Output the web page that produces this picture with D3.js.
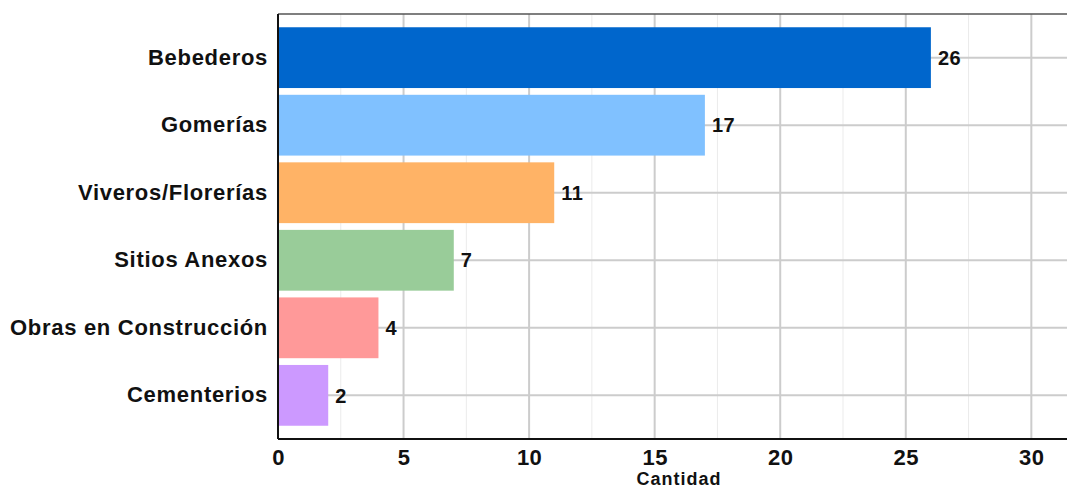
<!DOCTYPE html>
<html>
<head>
<meta charset="utf-8">
<script src="https://cdn.jsdelivr.net/npm/d3@7"></script>
<style>
  body { margin: 0; background: #fff; }
  text { font-family: "Liberation Sans", Arial, sans-serif; font-weight: bold; fill: #111; }
</style>
</head>
<body>
<div id="chart"></div>
<script>
// data
const categories = ['Bebederos', 'Gomerías', 'Viveros/Florerías', 'Sitios Anexos', 'Obras en Construcción', 'Cementerios'];
const values = [26, 17, 11, 7, 4, 2];
const colors = ['#0066cc', '#80c1ff', '#ffb366', '#99cc99', '#ff9999', '#cc99ff'];
const xTicks = [0, 5, 10, 15, 20, 25, 30];
const xMinorTicks = [2.5, 7.5, 12.5, 17.5, 22.5, 27.5];
const xLabel = 'Cantidad';

const width = 1067, height = 490;
const margin = { left: 278, right: 1069, top: 14, bottom: 439 };

const svg = d3.select('#chart').append('svg')
    .attr('width', width)
    .attr('height', height);

const x = d3.scaleLinear().domain([0, 31.5]).range([margin.left, margin.right]);
const y = d3.scaleBand().domain(categories).range([margin.top + 6.5, margin.bottom - 6.5]).padding(0.1);

// grid
svg.append('g').selectAll('line').data(xMinorTicks).enter().append('line')
    .attr('x1', d => x(d)).attr('x2', d => x(d))
    .attr('y1', margin.top).attr('y2', margin.bottom)
    .attr('stroke', '#ebebeb').attr('stroke-width', 1);
svg.append('g').selectAll('line').data(xTicks.slice(1)).enter().append('line')
    .attr('x1', d => x(d)).attr('x2', d => x(d))
    .attr('y1', margin.top).attr('y2', margin.bottom)
    .attr('stroke', '#cccccc').attr('stroke-width', 2);
svg.append('g').selectAll('line').data(categories).enter().append('line')
    .attr('x1', margin.left).attr('x2', margin.right)
    .attr('y1', d => y(d) + y.bandwidth() / 2).attr('y2', d => y(d) + y.bandwidth() / 2)
    .attr('stroke', '#cccccc').attr('stroke-width', 2);

// bars
svg.append('g').selectAll('rect').data(values).enter().append('rect')
    .attr('x', x(0))
    .attr('y', (d, i) => y(categories[i]))
    .attr('width', d => x(d) - x(0))
    .attr('height', y.bandwidth())
    .attr('fill', (d, i) => colors[i]);

// value labels
svg.append('g').selectAll('text').data(values).enter().append('text')
    .attr('x', d => x(d) + 7)
    .attr('y', (d, i) => y(categories[i]) + y.bandwidth() / 2)
    .attr('dy', '0.36em')
    .attr('font-size', 20)
    .style('letter-spacing', '0.5px')
    .text(d => d);

// frame
svg.append('line').attr('x1', margin.left).attr('x2', margin.right).attr('y1', margin.top).attr('y2', margin.top)
    .attr('stroke', '#555').attr('stroke-width', 1.5);
svg.append('line').attr('x1', margin.left).attr('x2', margin.left).attr('y1', margin.top).attr('y2', margin.bottom)
    .attr('stroke', '#111').attr('stroke-width', 2);
svg.append('line').attr('x1', margin.left).attr('x2', margin.right).attr('y1', margin.bottom).attr('y2', margin.bottom)
    .attr('stroke', '#111').attr('stroke-width', 2);

// axes
const xAxis = svg.append('g')
    .attr('transform', 'translate(0,' + margin.bottom + ')')
    .call(d3.axisBottom(x).tickValues(xTicks).tickSize(0).tickPadding(10));
xAxis.select('.domain').remove();
xAxis.selectAll('text').attr('font-size', 22).attr('fill', '#111')
    .style('font-family', '"Liberation Sans", Arial, sans-serif').style('font-weight', 'bold')
    .style('letter-spacing', '0.5px');

const yAxis = svg.append('g')
    .attr('transform', 'translate(' + margin.left + ',0)')
    .call(d3.axisLeft(y).tickSize(0).tickPadding(10));
yAxis.select('.domain').remove();
yAxis.selectAll('text').attr('font-size', 22).attr('fill', '#111')
    .style('font-family', '"Liberation Sans", Arial, sans-serif').style('font-weight', 'bold')
    .style('letter-spacing', '0.7px');

svg.append('text')
    .attr('x', 679)
    .attr('y', 485)
    .attr('text-anchor', 'middle')
    .attr('font-size', 18)
    .style('letter-spacing', '1px')
    .text(xLabel);
</script>
</body>
</html>
